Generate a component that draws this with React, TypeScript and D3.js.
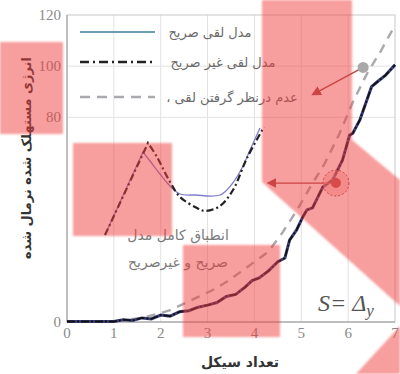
import * as d3 from "d3";

// main curves: explicit and implicit gap models overlap completely
const cycles = [0, 0.5, 1.0, 1.2, 1.4, 1.6, 1.8, 2.0, 2.2, 2.4, 2.6, 2.8, 3.0, 3.2, 3.4, 3.6, 3.8, 3.95, 4.1, 4.3, 4.5, 4.65, 4.75, 4.9, 5.03, 5.12, 5.24, 5.46, 5.67, 5.88, 6.03, 6.1, 6.25, 6.5, 6.63, 6.8, 7.0];
const explicitEnergy = [0.2, 0.2, 0.2, 0.9, 0.6, 1.6, 1.2, 2.7, 2.3, 4.0, 4.4, 5.8, 6.6, 7.6, 10.0, 10.8, 13.6, 16.2, 17.2, 20.0, 23.6, 25, 32, 36, 41, 43.8, 44.6, 52.8, 55.5, 63.3, 73, 73.8, 79, 92, 94, 96.5, 100.5];
const implicitEnergy = [0.2, 0.2, 0.2, 0.9, 0.6, 1.6, 1.2, 2.7, 2.3, 4.0, 4.4, 5.8, 6.6, 7.6, 10.0, 10.8, 13.6, 16.2, 17.2, 20.0, 23.6, 25, 32, 36, 41, 43.8, 44.6, 52.8, 55.5, 63.3, 73, 73.8, 79, 92, 94, 96.5, 100.5];

// no gap considered
const noGapCycles = [0, 1.0, 1.3, 1.6, 1.9, 2.2, 2.5, 2.8, 3.1, 3.4, 3.7, 4.0, 4.3, 4.6, 4.9, 5.2, 5.5, 5.8, 6.1, 6.4, 6.7, 7.0];
const noGapEnergy = [0.3, 0.3, 1.0, 1.6, 3.0, 4.6, 7.2, 9.8, 12.4, 15.6, 19.5, 23.5, 27.5, 35, 43.5, 53, 62, 73, 86, 97, 106, 116];

// inset hysteresis loop (arbitrary units)
const insetExplicitX = [0.5, 4.3, 5.0, 6.0, 7.0, 8.0, 9.5, 12.0, 13.2, 14.2, 15.0, 16.0];
const insetExplicitY = [0.5, 8.8, 7.9, 6.6, 5.4, 4.6, 4.5, 4.5, 5.6, 7.2, 9.0, 11.2];
const insetImplicitX = [0.5, 4.8, 5.7, 7.0, 8.0, 9.7, 10.5, 12.0, 13.3, 14.7, 16.4];
const insetImplicitY = [0.5, 9.7, 8.3, 5.8, 4.3, 3.2, 2.9, 3.4, 5.0, 8.2, 11.3];

const xTicks = [0, 1, 2, 3, 4, 5, 6, 7];
const yTicks = [0, 80, 100, 120];

const legendLabels = ["مدل لقی صریح", "مدل لقی غیر صریح", "عدم درنظر گرفتن لقی ،"];
const xTitle = "تعداد سیکل";
const yTitle = "انرژی مستهلک شده نرمال شده";
const noteLines = ["انطباق کامل مدل", "صریح و غیرصریح"];

// annotation anchors [cycle, energy]
const matchPoint = [5.74, 54.3];
const matchArrowEnd = [4.3, 54.3];
const noGapPoint = [6.32, 99.5];
const noGapArrowEnd = [5.25, 89];

// watermark shapes
const pink = [
  "M0,42 L63,42 L63,134 L0,134 Z",
  "M73,143 L172,143 L172,236 L73,236 Z",
  "M183,245 L280,245 L280,337 L183,337 Z",
  "M262,0 L352,0 L352,140 L400,180 L400,306 L262,182 Z",
  "M356,374 L400,326 L400,374 Z",
];

export default function App() {
  const width = 400;
  const height = 374;
  const x = d3.scaleLinear().domain([0, 7]).range([67, 395]);
  const y = d3.scaleLinear().domain([0, 120]).range([322, 15]);
  const ix = d3.scaleLinear().domain([0, 16]).range([100, 260]);
  const iy = d3.scaleLinear().domain([0, 12]).range([240, 120]);

  const line = d3
    .line<number>()
    .x((d, i) => x(cycles[i]))
    .y((d) => y(d));
  const noGapLine = d3
    .line<number>()
    .x((d, i) => x(noGapCycles[i]))
    .y((d) => y(d));

  // inset: straight rise to peak, smooth afterwards
  const insetPath = (xs: number[], ys: number[], peak: number) => {
    const pts = xs.map((v, i) => [ix(v), iy(ys[i])] as [number, number]);
    const rise = d3.line()(pts.slice(0, peak + 1));
    const rest = d3.line().curve(d3.curveCatmullRom.alpha(0.5))(pts.slice(peak));
    return rise + rest.replace(/^M/, "L");
  };

  const legendY = [32, 62, 97];
  const legendStyles = [
    { stroke: "#6c9fb4", dash: undefined, w: 2.2 },
    { stroke: "#222", dash: "9,4,2,4", w: 2.6 },
    { stroke: "#a9a9ae", dash: "10,7", w: 2.6 },
  ];
  const legendCx = [210, 223, 232];

  return (
    <svg
      width={width}
      height={height}
      style={{ position: "absolute", left: 0, top: 0, background: "#fff" }}
    >
      <defs>
        <marker id="ah" viewBox="0 0 10 10" refX="8" refY="5" markerWidth="7" markerHeight="7" orient="auto-start-reverse">
          <path d="M0,0 L10,5 L0,10 Z" fill="#a84a4a" />
        </marker>
        <filter id="soft">
          <feGaussianBlur stdDeviation="1.2" />
        </filter>
      </defs>

      {/* grid */}
      {xTicks.slice(1, -1).map((t) => (
        <line key={t} x1={x(t)} x2={x(t)} y1={y(120)} y2={y(0)} stroke="#e2e2e2" />
      ))}
      {yTicks.slice(1, -1).map((t) => (
        <line key={t} x1={x(0)} x2={x(7)} y1={y(t)} y2={y(t)} stroke="#e2e2e2" />
      ))}
      <rect x={x(0)} y={y(120)} width={x(7) - x(0)} height={y(0) - y(120)} fill="none" stroke="#c8c8c8" />
      <line x1={x(0)} x2={x(0)} y1={y(120)} y2={y(0)} stroke="#9a9a9a" />
      <line x1={x(0)} x2={x(7)} y1={y(0)} y2={y(0)} stroke="#9a9a9a" />

      {/* ticks */}
      {xTicks.map((t) => (
        <text key={t} x={x(t)} y={338} textAnchor="middle" fontFamily="Liberation Serif" fontSize={15} fill="#8a8a8a">
          {t}
        </text>
      ))}
      {yTicks.map((t) => (
        <text key={t} x={61} y={y(t) + 5} textAnchor="end" fontFamily="Liberation Serif" fontSize={15} fill="#8a8a8a">
          {t}
        </text>
      ))}

      {/* titles */}
      <text x={240} y={367} textAnchor="middle" direction="rtl" fontFamily="DejaVu Sans" fontWeight="bold" fontSize={14} fill="#333">
        {xTitle}
      </text>
      <text
        transform="translate(31,158) rotate(-90)"
        textAnchor="middle"
        direction="rtl"
        fontFamily="DejaVu Sans"
        fontWeight="bold"
        fontSize={13}
        fill="#333"
      >
        {yTitle}
      </text>

      {/* inset */}
      <path d={insetPath(insetExplicitX, insetExplicitY, 1)} fill="none" stroke="#7f7fcf" strokeWidth={1.3} />
      <path d={insetPath(insetImplicitX, insetImplicitY, 1)} fill="none" stroke="#222" strokeWidth={2.2} strokeDasharray="7,3,2,3" />

      {/* main curves */}
      <path d={noGapLine(noGapEnergy) ?? ""} fill="none" stroke="#a9a9ae" strokeWidth={2.4} strokeDasharray="9,7" />
      <path d={line(explicitEnergy) ?? ""} fill="none" stroke="#3a3f7a" strokeWidth={3} />
      <path d={line(implicitEnergy) ?? ""} fill="none" stroke="#111" strokeWidth={1.8} strokeDasharray="8,2,2,2" />

      {/* legend */}
      {legendLabels.map((l, i) => (
        <g key={l}>
          <line x1={80} x2={155} y1={legendY[i]} y2={legendY[i]} stroke={legendStyles[i].stroke} strokeWidth={legendStyles[i].w} strokeDasharray={legendStyles[i].dash} />
          <text x={legendCx[i]} y={legendY[i] + 5} textAnchor="middle" direction="rtl" fontFamily="DejaVu Sans" fontSize={13} fill="#6a6a6a">
            {l}
          </text>
        </g>
      ))}

      {/* notes */}
      {noteLines.map((l, i) => (
        <text key={l} x={178} y={240 + i * 27} textAnchor="middle" direction="rtl" fontFamily="DejaVu Sans" fontSize={14} fill="#7a7a7a">
          {l}
        </text>
      ))}
      <text x={318} y={311} fontFamily="Liberation Serif" fontStyle="italic" fontSize={24} fill="#555">
        S= Δ<tspan fontSize={17} dy={5}>y</tspan>
      </text>

      {/* annotations */}
      <line x1={x(matchPoint[0])} y1={y(matchPoint[1])} x2={x(matchArrowEnd[0])} y2={y(matchArrowEnd[1])} stroke="#a84a4a" strokeWidth={1.4} markerEnd="url(#ah)" />
      <circle cx={x(matchPoint[0])} cy={y(matchPoint[1])} r={13} fill="#f2b0b0" fillOpacity={0.5} stroke="#a84a4a" strokeDasharray="2,2" />
      <circle cx={x(matchPoint[0])} cy={y(matchPoint[1])} r={5} fill="#c05858" />
      <line x1={x(noGapPoint[0])} y1={y(noGapPoint[1])} x2={x(noGapArrowEnd[0])} y2={y(noGapArrowEnd[1])} stroke="#a84a4a" strokeWidth={1.4} markerEnd="url(#ah)" />
      <circle cx={x(noGapPoint[0])} cy={y(noGapPoint[1])} r={5.5} fill="#a8a8a8" />

      {/* watermark */}
      <g filter="url(#soft)">
        {pink.map((d, i) => (
          <path key={i} d={d} fill="#f03c3c" fillOpacity={0.5} />
        ))}
      </g>
    </svg>
  );
}
